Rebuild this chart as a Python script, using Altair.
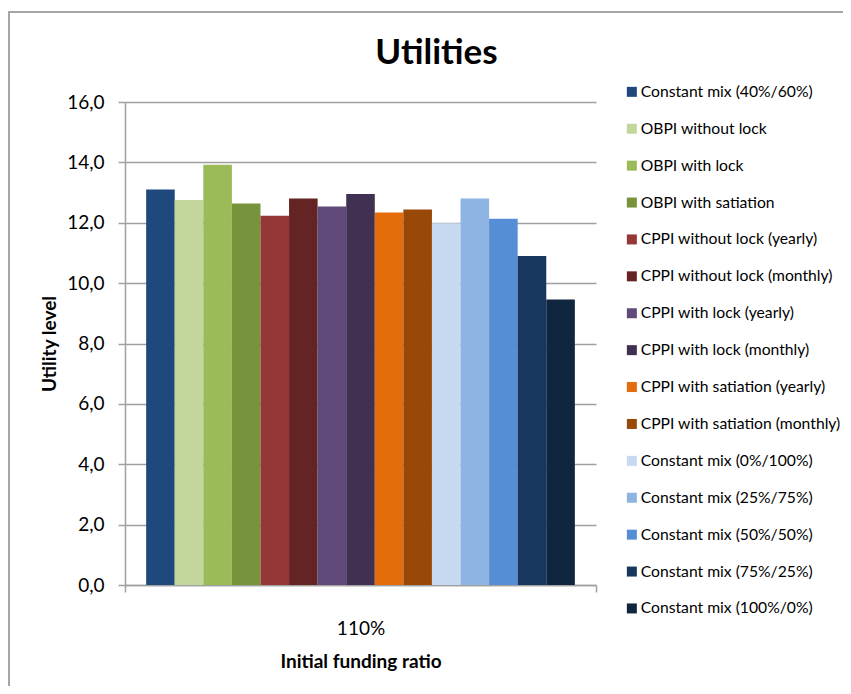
import altair as alt
import pandas as pd

categories = ["110%"]
series = [
    "Constant mix (40%/60%)",
    "OBPI without lock",
    "OBPI with lock",
    "OBPI with satiation",
    "CPPI without lock (yearly)",
    "CPPI without lock (monthly)",
    "CPPI with lock (yearly)",
    "CPPI with lock (monthly)",
    "CPPI with satiation (yearly)",
    "CPPI with satiation (monthly)",
    "Constant mix (0%/100%)",
    "Constant mix (25%/75%)",
    "Constant mix (50%/50%)",
    "Constant mix (75%/25%)",
    "Constant mix (100%/0%)",
]
values = [13.10, 12.75, 13.92, 12.64, 12.23, 12.80, 12.54, 12.95, 12.34, 12.44,
          11.98, 12.80, 12.13, 10.90, 9.46]
colors = ["#1F497D", "#C3D69B", "#9BBB59", "#77933C", "#953735", "#632423",
          "#604A7B", "#403152", "#E46C0A", "#984807", "#C6D9F1", "#8EB4E3",
          "#558ED5", "#17375E", "#10253F"]
y_ticks = [0, 2, 4, 6, 8, 10, 12, 14, 16]

df = pd.DataFrame({
    "ratio": categories * len(series),
    "series": series,
    "value": values,
})

FONT = "Lato"
GREY = "#A0A0A0"

bars = alt.Chart(df).mark_bar().encode(
    x=alt.X(
        "ratio:N",
        title="Initial funding ratio",
        scale=alt.Scale(paddingInner=0, paddingOuter=0),
        axis=alt.Axis(
            labelAngle=0, tickBand="extent", tickSize=7, tickColor=GREY, tickWidth=1.5,
            domainColor=GREY, domainWidth=1.5, labelPadding=27, labelFontSize=19,
            labelFont=FONT, labelColor="#000000", titleFont=FONT, titleFontSize=19,
            titleFontWeight="bold", titleColor="#000000", titlePadding=14, grid=False,
        ),
    ),
    xOffset=alt.XOffset(
        "series:N", sort=series,
        scale=alt.Scale(paddingInner=0, paddingOuter=0.74),
    ),
    y=alt.Y(
        "value:Q",
        title="Utility level",
        scale=alt.Scale(domain=[0, 16], nice=False),
        axis=alt.Axis(
            values=y_ticks,
            labelExpr="replace(format(datum.value, '.1f'), '.', ',')",
            tickSize=7, tickColor=GREY, tickWidth=1.5,
            domainColor=GREY, domainWidth=1.5,
            gridColor=GREY, gridWidth=1.5,
            labelPadding=14, labelFontSize=19, labelFont=FONT, labelColor="#000000",
            titleFont=FONT, titleFontSize=19, titleFontWeight="bold",
            titleColor="#000000", titlePadding=7,
        ),
    ),
    color=alt.Color(
        "series:N", sort=series,
        scale=alt.Scale(domain=series, range=colors),
        legend=alt.Legend(
            title=None, orient="none", legendX=499, legendY=-18,
            symbolType="square", symbolSize=100, symbolStrokeWidth=0,
            labelFont=FONT, labelFontSize=15.7, labelColor="#000000",
            labelOffset=1, rowPadding=19.9, padding=0, labelLimit=300,
        ),
    ),
)

border = alt.Chart(pd.DataFrame({"a": [0]})).mark_rect(
    fill="transparent", stroke="#A6A6A6", strokeWidth=2
).encode(
    x=alt.value(-116), x2=alt.value(1000), y=alt.value(-90), y2=alt.value(1000)
)

chart = alt.layer(border, bars).properties(
    width=471,
    height=483,
    autosize="none",
    padding={"left": 117, "top": 94, "right": 247, "bottom": 101},
    title=alt.Title(
        "Utilities", font=FONT, fontSize=35, fontWeight="bold", color="#000000",
        anchor="middle", dx=76, offset=-60,
    ),
).configure_view(strokeWidth=0)

chart.save("out.html", embed_options={"renderer": "svg", "actions": False})
